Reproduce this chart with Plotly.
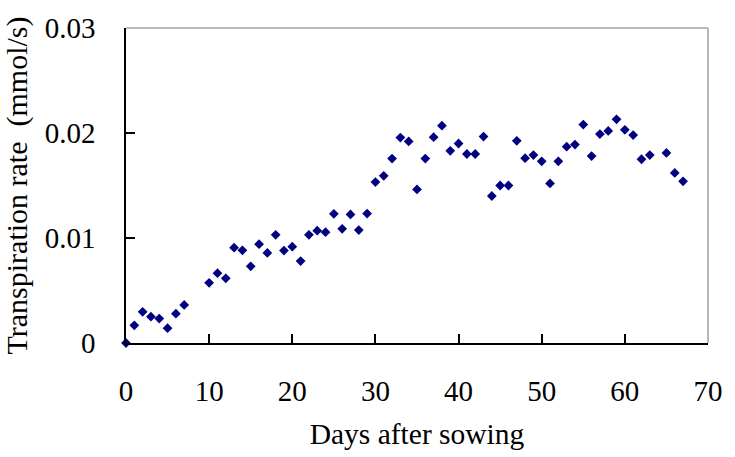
import plotly.graph_objects as go

# Transpiration rate measured on each day after sowing
days = [0, 1, 2, 3, 4, 5, 6, 7,
        10, 11, 12, 13, 14, 15, 16, 17, 18, 19, 20, 21, 22, 23, 24, 25, 26, 27, 28, 29,
        30, 31, 32, 33, 34, 35, 36, 37, 38, 39, 40, 41, 42, 43, 44, 45, 46, 47, 48, 49,
        50, 51, 52, 53, 54, 55, 56, 57, 58, 59, 60, 61, 62, 63, 65, 66, 67]
rate = [0.0, 0.00168, 0.00297, 0.00251, 0.00233, 0.00141, 0.00279, 0.00362,
        0.00573, 0.00665, 0.00616, 0.00908, 0.00883, 0.0073, 0.00941, 0.00858, 0.0103, 0.0088,
        0.00917, 0.0078, 0.0103, 0.0107, 0.01055, 0.0123, 0.01088, 0.01224, 0.01076, 0.01233,
        0.01533, 0.01592, 0.01757, 0.01957, 0.0192, 0.01463, 0.01757, 0.0196, 0.0207, 0.0183,
        0.0190, 0.0180, 0.0180, 0.01966, 0.0140, 0.0150, 0.0150, 0.01926, 0.0176, 0.0179,
        0.0173, 0.0152, 0.0173, 0.0187, 0.0189, 0.0208, 0.0178, 0.0199, 0.0202, 0.0213,
        0.0203, 0.0198, 0.0175, 0.0179, 0.0181, 0.0162, 0.0154]

x_ticks = [0, 10, 20, 30, 40, 50, 60, 70]
y_ticks = [0, 0.01, 0.02, 0.03]
y_tick_text = ["0", "0.01", "0.02", "0.03"]

serif = "Liberation Serif, Times New Roman, serif"

fig = go.Figure()
fig.add_trace(go.Scatter(
    x=days, y=rate, mode="markers",
    marker=dict(symbol="diamond", size=7.5, color="#000080"),
    cliponaxis=False, showlegend=False,
))

# grey frame on the top and right edges of the plot area
for x0, y0, x1, y1 in [(0, 1, 1, 1), (1, 0, 1, 1)]:
    fig.add_shape(type="line", xref="paper", yref="paper",
                  x0=x0, y0=y0, x1=x1, y1=y1,
                  line=dict(color="#a0a0a0", width=1.5), layer="below")

fig.update_layout(
    width=735, height=457,
    margin=dict(l=126, r=18, t=19, b=112),
    paper_bgcolor="white", plot_bgcolor="white",
    font=dict(family=serif, color="black", size=29),
    xaxis=dict(
        range=[0, 70], tickvals=x_ticks, ticks="inside", ticklen=9,
        tickcolor="black", tickwidth=1.5, showline=True, linecolor="black",
        linewidth=1.5, showgrid=False, zeroline=False,
        tickfont=dict(size=29), ticklabelstandoff=21,
        title=dict(text="Days after sowing", font=dict(size=29.5), standoff=18),
    ),
    yaxis=dict(
        range=[0, 0.03], tickvals=y_ticks, ticktext=y_tick_text, ticks="inside",
        ticklen=9, tickcolor="black", tickwidth=1.5, showline=True,
        linecolor="black", linewidth=1.5, showgrid=False, zeroline=False,
        tickfont=dict(size=29), ticklabelstandoff=23,
        title=dict(text="Transpiration rate&nbsp; (mmol/s)", font=dict(size=30), standoff=10),
    ),
)

fig.write_html("out.html")
